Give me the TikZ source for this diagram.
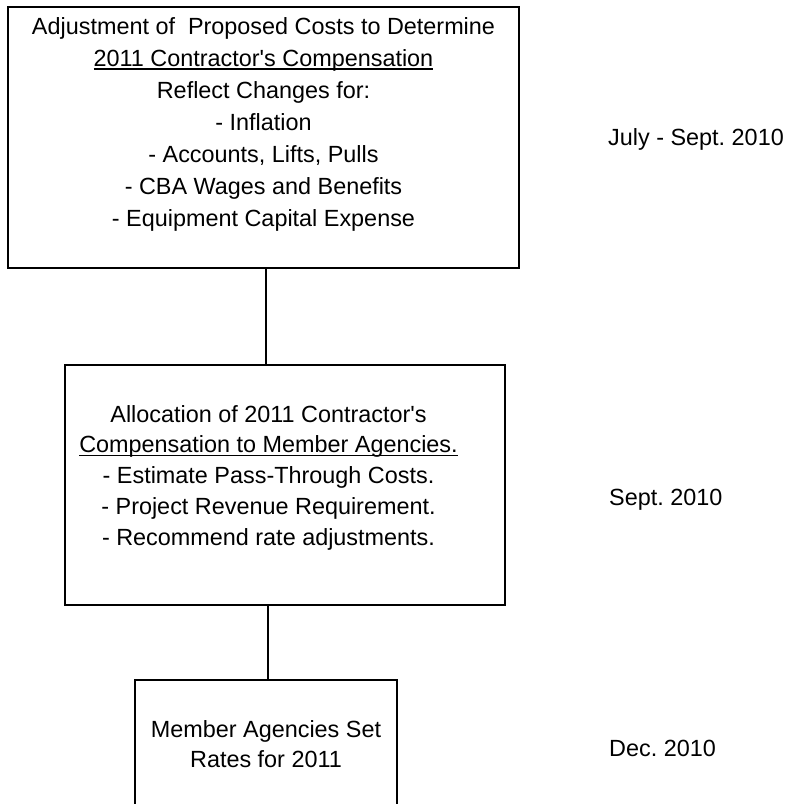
\documentclass[tikz,border=0pt]{standalone}
\usepackage{fontspec}
\setmainfont{Liberation Sans}
\frenchspacing
\newcommand{\myul}[1]{\setbox0\hbox{#1}\rlap{\rule[-3pt]{\wd0}{1.3pt}}\box0}
\begin{document}
\begin{tikzpicture}[x=1pt,y=-1pt,
  boxstyle/.style={draw=black,line width=1.8pt,inner sep=0pt,fill=none},
  txt/.style={inner sep=0pt,align=center,anchor=north},
  datestyle/.style={inner sep=0pt,anchor=base west,font=\fontsize{23.4}{28}\selectfont},
  conn/.style={draw=black,line width=1.6pt}]
\useasboundingbox (0,0) rectangle (790,804);
\clip (0,0) rectangle (790,804);
\fill[white] (0,0) rectangle (790,804);
% boxes
\node[boxstyle,minimum width=511pt,minimum height=261pt] (b1) at (263.5,137.5) {};
\node[boxstyle,minimum width=440pt,minimum height=240pt] (b2) at (285,485) {};
\node[boxstyle,minimum width=262pt,minimum height=180pt] (b3) at (266,770) {};
% texts
\node[txt,font=\fontsize{23.4}{31.9}\selectfont] (t1) at (263.5,12.2) {\strut Adjustment of\ \ Proposed Costs to Determine\\
\myul{2011 Contractor\textquotesingle s Compensation}\\
Reflect Changes for:\\
- Inflation\\
- Accounts, Lifts, Pulls\\
- CBA Wages and Benefits\\
- Equipment Capital Expense};
\node[txt,font=\fontsize{23.4}{30.8}\selectfont] (t2) at (268.5,400.4) {\strut Allocation of 2011 Contractor\textquotesingle s\\
\myul{Compensation to Member Agencies.}\\
- Estimate Pass-Through Costs.\\
- Project Revenue Requirement.\\
- Recommend rate adjustments.};
\node[txt,font=\fontsize{23.4}{30}\selectfont] (t3) at (266,716) {\strut Member Agencies Set\\
Rates for 2011};
% dates
\node[datestyle] (d1) at (608,145) {July - Sept. 2010};
\node[datestyle] (d2) at (609,505) {Sept. 2010};
\node[datestyle] (d3) at (609,756) {Dec. 2010};
% connectors
\coordinate (c1a) at (266,268);
\draw[conn] (b1.south -| c1a) -- (b2.north -| c1a);
\coordinate (c2a) at (268,605);
\draw[conn] (b2.south -| c2a) -- (b3.north -| c2a);
\end{tikzpicture}
\end{document}
